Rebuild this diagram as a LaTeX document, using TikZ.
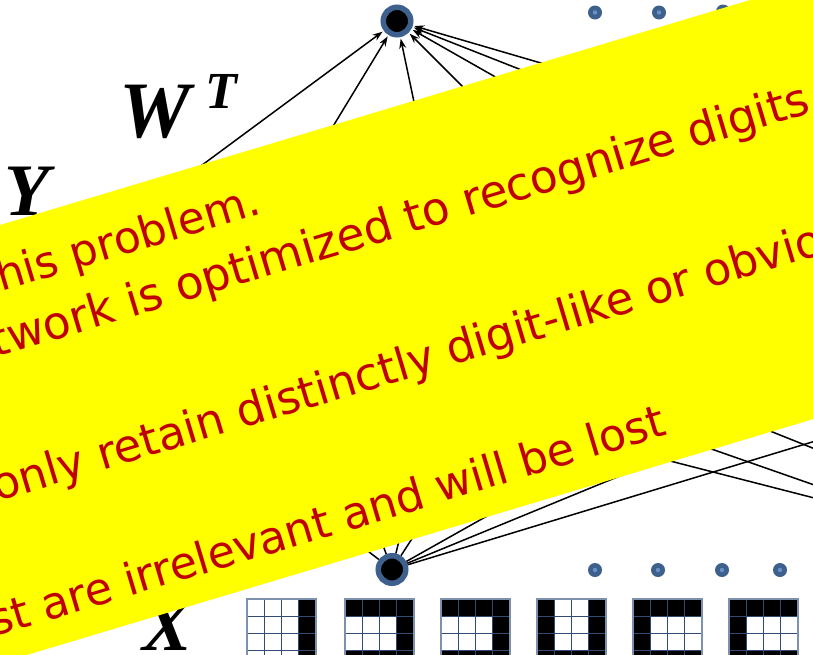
\documentclass[tikz,border=0pt]{standalone}
\usepackage{fontspec}
\newfontfamily\bannerfont{DejaVu Sans}
\newfontfamily\labelfont{Liberation Serif}
\usetikzlibrary{arrows.meta}
\definecolor{bannerred}{RGB}{192,0,0}
\definecolor{banneryellow}{RGB}{255,255,0}
\definecolor{nodeblue}{RGB}{62,96,140}
\definecolor{dotcenter}{RGB}{105,145,200}
\definecolor{gridline}{RGB}{50,75,115}
\definecolor{gridborder}{RGB}{125,145,175}
\newcommand{\digitgrid}[2]{%
  \foreach \cc/\rr in {#2} {\fill[black] (#1+\cc*17.25,599+\rr*17.25) rectangle ++(17.25,17.25);}
  \foreach \k in {1,2,3} {
    \draw[gridline,line width=0.9pt] (#1+\k*17.25,599) -- ++(0,80);
    \draw[gridline,line width=0.9pt] (#1,599+\k*17.25) -- ++(69,0);
  }
  \draw[gridborder,line width=1.2pt] (#1,599) rectangle ++(69,80);
}
\begin{document}
\begin{tikzpicture}[x=1pt,y=-1pt,
  bignode/.style={circle,draw=nodeblue,line width=5.5pt,fill=black,minimum size=27.5pt,inner sep=0pt},
  smalldot/.style={circle,fill=nodeblue,minimum size=14pt,inner sep=0pt,
    path picture={\fill[dotcenter] (path picture bounding box.center) circle (2.2pt);}},
  wire/.style={line width=1.5pt,black},
  arrowwire/.style={wire,-{Stealth[length=10pt,width=7pt]},shorten >=1.5pt},
  bannertext/.style={anchor=base west,rotate=16.7,text=bannerred,inner sep=0pt},
  varlabel/.style={anchor=base west,inner sep=0pt,text=black}
]
\useasboundingbox (0,0) rectangle (813,654);
\clip (0,0) rectangle (813,654);
\fill[white] (0,0) rectangle (813,654);

% digit grids
\digitgrid{247}{3/0,3/1,3/2,3/3}
\digitgrid{345}{0/0,1/0,2/0,3/0,3/1,3/2,0/3,1/3,2/3,3/3}
\digitgrid{441}{0/0,1/0,2/0,3/0,3/1,3/2,0/3,1/3,2/3,3/3}
\digitgrid{537}{0/0,3/0,0/1,3/1,0/2,3/2,0/3,1/3,2/3,3/3}
\digitgrid{633}{0/0,1/0,2/0,3/0,0/1,0/2,0/3,1/3,2/3,3/3}
\digitgrid{729}{0/0,1/0,2/0,3/0,0/1,0/2,0/3,1/3,2/3,3/3}

% labels
\node[varlabel,font=\labelfont\bfseries\itshape\fontsize{80}{90}\selectfont] (wlab) at (119,137) {W};
\node[varlabel,font=\labelfont\bfseries\itshape\fontsize{52}{60}\selectfont] (tlab) at (205,108) {T};
\node[varlabel,font=\labelfont\bfseries\itshape\fontsize{74}{80}\selectfont] (ylab) at (4,215) {Y};
\node[varlabel,font=\labelfont\bfseries\itshape\fontsize{74}{80}\selectfont] (xlab) at (142,650) {X};

% main nodes
\node[bignode] (top) at (397,21) {};
\node[bignode] (bot) at (392,569.5) {};

% small dots
\node[smalldot] (td1) at (595,12.5) {};
\node[smalldot] (td2) at (659,12.5) {};
\node[smalldot] (td3) at (723,11.5) {};
\node[smalldot] (bd1) at (595,570) {};
\node[smalldot] (bd2) at (658,570) {};
\node[smalldot] (bd3) at (722,570) {};
\node[smalldot] (bd4) at (780,570) {};

% hidden sources of the top arrows
\coordinate (s1) at (121,225);
\coordinate (s2) at (299.5,181.5);
\coordinate (s3) at (422.5,142.5);
\coordinate (s4) at (497.5,121.5);
\coordinate (s5) at (557,112);
\coordinate (s6) at (608,104);
\coordinate (s7) at (656,96.6);
\foreach \s in {s1,s2,s3,s4,s5,s6,s7} {\draw[arrowwire] (\s) -- (top);}

% hidden targets of the bottom wires
\coordinate (b1) at (352,539);
\coordinate (b2) at (372,516);
\coordinate (b3) at (404,520);
\coordinate (b4) at (437,500);
\coordinate (b5) at (560,475);
\coordinate (b6) at (700,443);
\coordinate (b7) at (1000,385);
\foreach \b in {b1,b2,b3,b4,b5,b6,b7} {\draw[wire] (bot) -- (\b);}

% crossing wires to the right
\coordinate (d1s) at (600,443);
\coordinate (d1e) at (900,520);
\coordinate (d2s) at (640,424);
\coordinate (d2e) at (900,515);
\coordinate (d3s) at (700,403);
\coordinate (d3e) at (900,483);
\draw[wire] (d1s) -- (d1e);
\draw[wire] (d2s) -- (d2e);
\draw[wire] (d3s) -- (d3e);

% banner
\fill[banneryellow] (-60,243) -- (900,-45) -- (900,393) -- (-60,681) -- cycle;
\node[bannertext,font=\bannerfont\fontsize{44}{50}\selectfont] (l1) at (1,292) {his problem.};
\node[bannertext,font=\bannerfont\fontsize{45.5}{50}\selectfont] (l2) at (-5,358) {twork is optimized to recognize digits};
\node[bannertext,font=\bannerfont\fontsize{45}{50}\selectfont] (l3) at (-3,502) {only retain distinctly digit-like or obvio};
\node[bannertext,font=\bannerfont\fontsize{44.5}{50}\selectfont] (l4) at (-6,637) {st are irrelevant and will be lost};
\end{tikzpicture}
\end{document}
